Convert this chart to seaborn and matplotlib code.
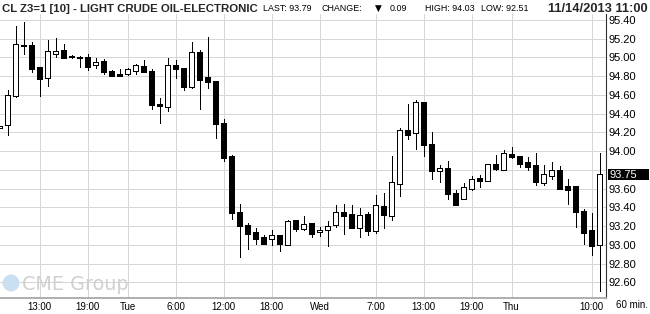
import matplotlib
matplotlib.use("Agg")
import matplotlib.pyplot as plt
from matplotlib import font_manager, transforms
from matplotlib.patches import Rectangle, Circle
import numpy as np
import pandas as pd
import seaborn as sns

# ---------------- data (hourly bars, index 0 = Mon 9:00) ----------------
bar_index = list(range(-1, 75))
opens = [94.25, 94.28, 94.59, 95.13, 95.13, 94.90, 94.78, 95.04, 95.08, 95.02, 95.01,
         95.01, 94.92, 94.96, 94.86, 94.82, 94.82, 94.86, 94.91, 94.86, 94.50,
         94.47, 94.92, 94.89, 94.69, 95.06, 94.79, 94.75, 94.30, 93.95, 93.35,
         93.21, 93.14, 93.08, 93.06, 93.11, 93.00, 93.26, 93.17, 93.23, 93.14,
         93.16, 93.21, 93.35, 93.33, 93.18, 93.33, 93.15, 93.41, 93.31, 93.65,
         94.23, 94.19, 94.52, 94.08, 93.79, 93.82, 93.55, 93.49, 93.60, 93.71,
         93.68, 93.86, 93.80, 93.97, 93.95, 93.88, 93.85, 93.66, 93.73, 93.80,
         93.63, 93.63, 93.36, 93.16, 93.00]
highs = [94.27, 94.65, 95.34, 95.38, 95.16, 94.90, 95.19, 95.21, 95.14, 95.03, 95.02,
         95.04, 94.99, 94.98, 94.87, 94.88, 94.89, 94.93, 94.97, 94.88, 94.57,
         94.99, 94.97, 94.89, 95.16, 95.08, 95.22, 94.75, 94.34, 93.96, 93.44,
         93.23, 93.18, 93.10, 93.16, 93.11, 93.27, 93.27, 93.31, 93.23, 93.19,
         93.25, 93.42, 93.44, 93.42, 93.39, 93.35, 93.53, 93.55, 93.95, 94.25,
         94.50, 94.55, 94.53, 94.20, 93.85, 93.89, 93.59, 93.66, 93.73, 93.75,
         93.86, 93.96, 94.01, 94.04, 93.95, 93.94, 93.98, 93.85, 93.88, 93.84,
         93.70, 93.63, 93.38, 93.34, 93.98]
lows = [94.25, 94.17, 94.58, 95.04, 94.85, 94.59, 94.70, 95.01, 94.99, 94.99, 94.90,
        94.87, 94.89, 94.82, 94.80, 94.80, 94.81, 94.82, 94.84, 94.45, 94.30,
        94.43, 94.78, 94.65, 94.67, 94.45, 94.67, 94.14, 93.89, 93.28, 92.87,
        92.96, 93.01, 93.01, 93.00, 92.93, 93.00, 93.15, 93.16, 93.08, 93.09,
        92.99, 93.19, 93.12, 93.18, 93.08, 93.10, 93.13, 93.18, 93.27, 93.52,
        94.13, 94.02, 93.95, 93.70, 93.67, 93.49, 93.43, 93.49, 93.59, 93.62,
        93.68, 93.80, 93.80, 93.93, 93.83, 93.80, 93.64, 93.64, 93.70, 93.60,
        93.44, 93.19, 93.01, 92.89, 92.51]
closes = [94.27, 94.60, 95.14, 95.12, 94.88, 94.77, 95.07, 95.065, 94.99, 95.00, 94.99,
          94.90, 94.95, 94.84, 94.80, 94.80, 94.88, 94.92, 94.84, 94.49, 94.48,
          94.92, 94.88, 94.69, 95.06, 94.76, 94.74, 94.29, 93.93, 93.34, 93.20,
          93.12, 93.06, 93.01, 93.11, 93.01, 93.25, 93.17, 93.22, 93.12, 93.16,
          93.20, 93.35, 93.31, 93.18, 93.32, 93.15, 93.43, 93.32, 93.67, 94.23,
          94.17, 94.52, 94.07, 93.79, 93.82, 93.54, 93.43, 93.62, 93.70, 93.68,
          93.86, 93.81, 93.98, 93.94, 93.86, 93.83, 93.67, 93.76, 93.80, 93.60,
          93.59, 93.35, 93.13, 92.99, 93.76]

tick_index = [4, 10, 15, 21, 27, 33, 39, 46, 52, 58, 63, 73]
tick_labels = ["13:00", "19:00", "Tue", "6:00", "12:00", "18:00", "Wed",
               "7:00", "13:00", "19:00", "Thu", "10:00"]
price_ticks = [92.60, 92.80, 93.00, 93.20, 93.40, 93.60, 93.80, 94.00,
               94.20, 94.40, 94.60, 94.80, 95.00, 95.20, 95.40]
hidden_price_label = 93.80
last_tag_value = 93.75
last_tag_text = "93.75"

title_text = "CL Z3=1 [10] - LIGHT CRUDE OIL-ELECTRONIC"
info_parts = ["LAST: 93.79", "CHANGE:", "\u25BC", "0.09", "HIGH: 94.03", "LOW: 92.51"]
date_text = "11/14/2013 11:00"
interval_text = "60 min."
watermark_text = "CME Group"

# ---------------- style ----------------
sns.set_style("white")
plt.rcParams["font.family"] = ["Liberation Sans", "DejaVu Sans"]

W, H = 650, 314
fig = plt.figure(figsize=(W / 100, H / 100), dpi=100)
fig.patch.set_facecolor("white")

left_px, right_px, top_px, bottom_px = 0.0, 605.5, 13.5, 298.0
ax = fig.add_axes([left_px / W, 1 - bottom_px / H,
                   (right_px - left_px) / W, (bottom_px - top_px) / H])
ax.patch.set_alpha(0)

# watermark (behind everything)
fig.patches.append(Circle((11 / 100, (H - 283) / 100), 8.5 / 100,
                          transform=fig.dpi_scale_trans, facecolor="#cbdff2",
                          edgecolor="none", zorder=0))
r = fig.canvas.get_renderer()


def fit_text(x_px, y_px, s, width_px, **kw):
    t = fig.text(x_px / W, 1 - y_px / H, s, **kw)
    bb = t.get_window_extent(renderer=r)
    t.set_fontsize(t.get_fontsize() * width_px / bb.width)
    return t


fit_text(22.5, 290.5, watermark_text, 107, fontsize=14, color="#d0d0d0",
         family=["DejaVu Sans"], va="baseline", ha="left", zorder=0)

# ---------------- candles ----------------
df = pd.DataFrame(dict(idx=bar_index, open=opens, high=highs, low=lows, close=closes))
up = (df["close"] >= df["open"]).to_numpy()
body_bottom = df[["open", "close"]].min(axis=1)
body_height = (df["close"] - df["open"]).abs().clip(lower=0.012)

ax.vlines(df["idx"], df["low"], df["high"], color="black", lw=0.6,
          antialiased=False, zorder=3)
ax.bar(df["idx"], body_height, bottom=body_bottom, width=0.56,
       color=np.where(up, "white", "black"), edgecolor="black", linewidth=0.6,
       antialiased=False, zorder=4)

ax.set_xlim((left_px - 7.5) / 8, (right_px - 7.5) / 8)
ax.set_ylim(95.40 - (bottom_px - 20) / 93.68, 95.40 + (20 - top_px) / 93.68)

ax.set_xticks(tick_index)
ax.set_xticklabels(tick_labels)
ax.set_yticks(price_ticks)
ax.set_yticklabels(["" if abs(p - hidden_price_label) < 1e-6 else f"{p:.2f}"
                    for p in price_ticks])
ax.yaxis.tick_right()
ax.grid(True, color="#d6d6d6", lw=0.72, zorder=1)
ax.set_axisbelow(True)
ax.tick_params(axis="y", length=0, pad=2.2, labelsize=8, labelcolor="black")
ax.tick_params(axis="x", length=0, pad=2.6, labelsize=7, labelcolor="black")
for s in ["left", "top"]:
    ax.spines[s].set_visible(False)
ax.spines["bottom"].set_color("#a8a8a8")
ax.spines["bottom"].set_linewidth(1.3)
ax.spines["right"].set_color("#333333")
ax.spines["right"].set_linewidth(0.8)

# last price tag on right axis
blend = transforms.blended_transform_factory(fig.transFigure, ax.transData)
tag_h = 10.5 / 93.68
ax.add_patch(Rectangle((607.5 / W, last_tag_value - tag_h / 2), 41 / W, tag_h,
                       transform=blend, facecolor="black", edgecolor="none",
                       clip_on=False, zorder=6))
ax.text(609 / W, last_tag_value, last_tag_text, transform=blend, color="white",
        fontsize=8, va="center", ha="left", zorder=7, clip_on=False)

# interval label
fig.text(616 / W, 1 - 305.5 / H, interval_text, fontsize=7, va="center", ha="left",
         color="black")

# ---------------- header ----------------
title_family = "Liberation Sans"
names = {f.name for f in font_manager.fontManager.ttflist}
if "Liberation Sans Narrow" in names:
    title_family = "Liberation Sans Narrow"
fit_text(2, 11.5, title_text, 254, fontsize=10, fontweight="bold",
         family=[title_family, "DejaVu Sans"], va="baseline", ha="left")
info_x = [263, 321, 375, 390, 425, 481]
for x, s in zip(info_x, info_parts):
    fig.text(x / W, 1 - 11 / H, s, fontsize=6.4,
             family=["DejaVu Sans"] if s == "\u25BC" else ["Liberation Sans", "DejaVu Sans"],
             va="baseline", ha="left", color="black")
fit_text(648, 11.5, date_text, 100, fontsize=9, fontweight="bold",
         family=["Liberation Sans", "DejaVu Sans"], va="baseline", ha="right")

fig.savefig("out.png", dpi=100, facecolor="white")
